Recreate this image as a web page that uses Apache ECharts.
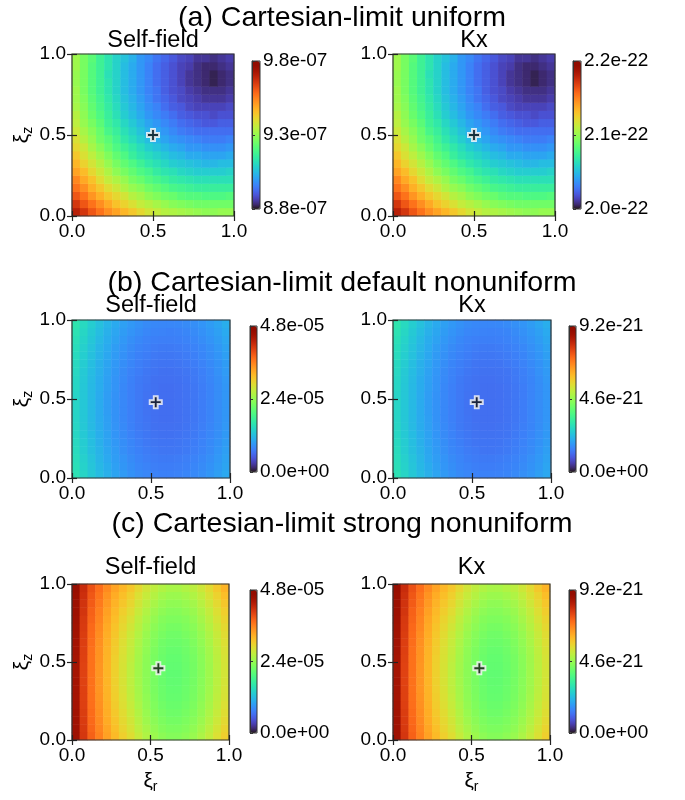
<!DOCTYPE html>
<html>
<head>
<meta charset="utf-8">
<script src="https://cdn.jsdelivr.net/npm/echarts@6/dist/echarts.min.js"></script>
<style>
  html, body { margin: 0; background: #fff; }
  #chart { width: 685px; height: 800px; }
</style>
</head>
<body>
<div id="chart"></div>
<script>
// cell centres of the sampled field (xi_r and xi_z), 20 x 20
const cells = ['0.025', '0.075', '0.125', '0.175', '0.225', '0.275', '0.325', '0.375', '0.425', '0.475',
  '0.525', '0.575', '0.625', '0.675', '0.725', '0.775', '0.825', '0.875', '0.925', '0.975'];

const rowTitles = ['(a) Cartesian-limit uniform', '(b) Cartesian-limit default nonuniform', '(c) Cartesian-limit strong nonuniform'];
const panelTitles = ['Self-field', 'Kx'];

// rows go from xi_z = 0.025 (bottom) up to 0.975, columns from xi_r = 0.025 to 0.975
// (a) self-field, units of 1e-9
const selfFieldA = [
  [970, 966, 961, 957, 953, 950, 947, 944, 941, 938, 936, 934, 933, 932, 931, 930, 929, 929, 930, 930],
  [966, 961, 957, 953, 949, 945, 942, 939, 936, 934, 932, 930, 928, 927, 926, 925, 925, 925, 925, 925],
  [961, 957, 952, 948, 944, 941, 938, 934, 932, 929, 927, 925, 924, 922, 921, 921, 920, 920, 920, 921],
  [957, 953, 948, 944, 940, 937, 933, 930, 928, 925, 923, 921, 919, 918, 917, 916, 916, 916, 916, 916],
  [954, 949, 945, 940, 936, 933, 930, 926, 924, 921, 919, 917, 915, 914, 913, 912, 912, 912, 912, 912],
  [950, 946, 941, 937, 933, 929, 926, 923, 920, 918, 915, 913, 912, 910, 909, 908, 908, 908, 908, 909],
  [947, 942, 938, 934, 930, 926, 923, 920, 917, 914, 912, 910, 908, 907, 906, 905, 904, 904, 905, 905],
  [944, 939, 935, 931, 927, 923, 920, 916, 913, 911, 909, 907, 905, 904, 902, 902, 901, 901, 901, 902],
  [941, 937, 932, 928, 924, 920, 917, 914, 911, 908, 906, 904, 902, 901, 899, 899, 898, 898, 898, 899],
  [939, 934, 930, 925, 922, 918, 914, 911, 908, 905, 903, 901, 899, 898, 897, 896, 895, 895, 895, 896],
  [937, 932, 928, 924, 919, 916, 912, 909, 906, 903, 901, 899, 897, 895, 894, 893, 893, 893, 893, 893],
  [935, 930, 926, 922, 917, 914, 910, 907, 904, 901, 899, 897, 895, 893, 892, 891, 890, 890, 891, 891],
  [934, 929, 924, 920, 916, 912, 908, 905, 902, 899, 897, 895, 893, 891, 890, 889, 889, 888, 889, 889],
  [932, 928, 923, 919, 915, 911, 907, 904, 901, 898, 896, 893, 891, 890, 888, 887, 887, 887, 887, 888],
  [931, 927, 922, 918, 914, 910, 906, 903, 900, 897, 894, 892, 890, 888, 887, 886, 885, 885, 885, 886],
  [931, 926, 921, 917, 913, 909, 905, 902, 899, 896, 894, 891, 889, 888, 886, 885, 884, 884, 884, 885],
  [930, 926, 921, 917, 913, 909, 905, 902, 899, 896, 893, 891, 889, 887, 885, 884, 883, 882, 883, 884],
  [930, 926, 921, 917, 912, 909, 905, 902, 899, 896, 893, 891, 889, 887, 885, 884, 883, 882, 883, 884],
  [931, 926, 921, 917, 913, 909, 905, 902, 899, 896, 893, 891, 889, 887, 886, 884, 883, 883, 884, 885],
  [931, 926, 922, 917, 913, 909, 906, 903, 899, 897, 894, 892, 890, 888, 887, 885, 885, 884, 885, 886]
];
// (a) Kx, units of 1e-25
const kxA = [
  [2180, 2172, 2162, 2154, 2146, 2140, 2134, 2128, 2122, 2116, 2112, 2108, 2106, 2104, 2102, 2100, 2098, 2098, 2100, 2100],
  [2172, 2162, 2154, 2146, 2138, 2130, 2124, 2118, 2112, 2108, 2104, 2100, 2096, 2094, 2092, 2090, 2090, 2090, 2090, 2090],
  [2162, 2154, 2144, 2136, 2128, 2122, 2116, 2108, 2104, 2098, 2094, 2090, 2088, 2084, 2082, 2082, 2080, 2080, 2080, 2082],
  [2154, 2146, 2136, 2128, 2120, 2114, 2106, 2100, 2096, 2090, 2086, 2082, 2078, 2076, 2074, 2072, 2072, 2072, 2072, 2072],
  [2148, 2138, 2130, 2120, 2112, 2106, 2100, 2092, 2088, 2082, 2078, 2074, 2070, 2068, 2066, 2064, 2064, 2064, 2064, 2064],
  [2140, 2132, 2122, 2114, 2106, 2098, 2092, 2086, 2080, 2076, 2070, 2066, 2064, 2060, 2058, 2056, 2056, 2056, 2056, 2058],
  [2134, 2124, 2116, 2108, 2100, 2092, 2086, 2080, 2074, 2068, 2064, 2060, 2056, 2054, 2052, 2050, 2048, 2048, 2050, 2050],
  [2128, 2118, 2110, 2102, 2094, 2086, 2080, 2072, 2066, 2062, 2058, 2054, 2050, 2048, 2044, 2044, 2042, 2042, 2042, 2044],
  [2122, 2114, 2104, 2096, 2088, 2080, 2074, 2068, 2062, 2056, 2052, 2048, 2044, 2042, 2038, 2038, 2036, 2036, 2036, 2038],
  [2118, 2108, 2100, 2090, 2084, 2076, 2068, 2062, 2056, 2050, 2046, 2042, 2038, 2036, 2034, 2032, 2030, 2030, 2030, 2032],
  [2114, 2104, 2096, 2088, 2078, 2072, 2064, 2058, 2052, 2046, 2042, 2038, 2034, 2030, 2028, 2026, 2026, 2026, 2026, 2026],
  [2110, 2100, 2092, 2084, 2074, 2068, 2060, 2054, 2048, 2042, 2038, 2034, 2030, 2026, 2024, 2022, 2020, 2020, 2022, 2022],
  [2108, 2098, 2088, 2080, 2072, 2064, 2056, 2050, 2044, 2038, 2034, 2030, 2026, 2022, 2020, 2018, 2018, 2016, 2018, 2018],
  [2104, 2096, 2086, 2078, 2070, 2062, 2054, 2048, 2042, 2036, 2032, 2026, 2022, 2020, 2016, 2014, 2014, 2014, 2014, 2016],
  [2102, 2094, 2084, 2076, 2068, 2060, 2052, 2046, 2040, 2034, 2028, 2024, 2020, 2016, 2014, 2012, 2010, 2010, 2010, 2012],
  [2102, 2092, 2082, 2074, 2066, 2058, 2050, 2044, 2038, 2032, 2028, 2022, 2018, 2016, 2012, 2010, 2008, 2008, 2008, 2010],
  [2100, 2092, 2082, 2074, 2066, 2058, 2050, 2044, 2038, 2032, 2026, 2022, 2018, 2014, 2010, 2008, 2006, 2004, 2006, 2008],
  [2100, 2092, 2082, 2074, 2064, 2058, 2050, 2044, 2038, 2032, 2026, 2022, 2018, 2014, 2010, 2008, 2006, 2004, 2006, 2008],
  [2102, 2092, 2082, 2074, 2066, 2058, 2050, 2044, 2038, 2032, 2026, 2022, 2018, 2014, 2012, 2008, 2006, 2006, 2008, 2010],
  [2102, 2092, 2084, 2074, 2066, 2058, 2052, 2046, 2038, 2034, 2028, 2024, 2020, 2016, 2014, 2010, 2010, 2008, 2010, 2012]
];
// (b) self-field, units of 1e-7
const selfFieldB = [
  [155, 142, 130, 119, 110, 101, 94, 88, 83, 80, 77, 76, 76, 77, 79, 82, 86, 91, 97, 104],
  [152, 139, 127, 116, 107, 98, 91, 85, 80, 77, 74, 73, 73, 74, 76, 79, 83, 88, 94, 101],
  [150, 137, 125, 114, 104, 96, 89, 83, 78, 74, 72, 71, 71, 72, 74, 77, 81, 86, 92, 99],
  [148, 134, 122, 112, 102, 94, 86, 80, 76, 72, 70, 68, 68, 69, 71, 74, 78, 83, 90, 97],
  [146, 133, 121, 110, 100, 92, 85, 79, 74, 70, 68, 67, 67, 68, 70, 73, 77, 82, 88, 95],
  [144, 131, 119, 108, 99, 90, 83, 77, 72, 69, 66, 65, 65, 66, 68, 71, 75, 80, 86, 93],
  [143, 130, 118, 107, 98, 89, 82, 76, 71, 68, 65, 64, 64, 65, 67, 70, 74, 79, 85, 92],
  [142, 129, 117, 106, 97, 88, 81, 75, 70, 67, 64, 63, 63, 64, 66, 69, 73, 78, 84, 91],
  [142, 129, 117, 106, 96, 88, 81, 75, 70, 66, 64, 63, 63, 64, 66, 69, 73, 78, 84, 91],
  [142, 129, 117, 106, 96, 88, 81, 75, 70, 66, 64, 63, 63, 64, 66, 69, 73, 78, 84, 91],
  [142, 129, 117, 106, 96, 88, 81, 75, 70, 66, 64, 63, 63, 64, 66, 69, 73, 78, 84, 91],
  [143, 129, 117, 107, 97, 89, 81, 75, 70, 67, 65, 63, 63, 64, 66, 69, 73, 78, 84, 91],
  [143, 130, 118, 107, 98, 89, 82, 76, 71, 68, 65, 64, 64, 65, 67, 70, 74, 79, 85, 92],
  [145, 131, 119, 109, 99, 91, 83, 77, 73, 69, 67, 65, 65, 66, 68, 71, 75, 80, 87, 94],
  [146, 133, 121, 110, 101, 92, 85, 79, 74, 71, 68, 67, 67, 68, 70, 73, 77, 82, 88, 95],
  [148, 135, 123, 112, 103, 94, 87, 81, 76, 73, 70, 69, 69, 70, 72, 75, 79, 84, 90, 97],
  [150, 137, 125, 114, 105, 96, 89, 83, 78, 75, 72, 71, 71, 72, 74, 77, 81, 86, 92, 99],
  [153, 140, 128, 117, 107, 99, 92, 86, 81, 77, 75, 74, 74, 75, 77, 80, 84, 89, 95, 102],
  [156, 143, 131, 120, 110, 102, 95, 89, 84, 80, 78, 77, 76, 77, 79, 83, 87, 92, 98, 105],
  [159, 146, 134, 123, 113, 105, 98, 92, 87, 83, 81, 80, 80, 81, 83, 86, 90, 95, 101, 108]
];
// (b) Kx, units of 1e-23
const kxB = [
  [297, 272, 249, 228, 211, 194, 180, 169, 159, 153, 148, 146, 146, 148, 151, 157, 165, 174, 186, 199],
  [291, 266, 243, 222, 205, 188, 174, 163, 153, 148, 142, 140, 140, 142, 146, 151, 159, 169, 180, 194],
  [288, 263, 240, 219, 199, 184, 171, 159, 150, 142, 138, 136, 136, 138, 142, 148, 155, 165, 176, 190],
  [284, 257, 234, 215, 196, 180, 165, 153, 146, 138, 134, 130, 130, 132, 136, 142, 150, 159, 173, 186],
  [280, 255, 232, 211, 192, 176, 163, 151, 142, 134, 130, 128, 128, 130, 134, 140, 148, 157, 169, 182],
  [276, 251, 228, 207, 190, 173, 159, 148, 138, 132, 127, 125, 125, 127, 130, 136, 144, 153, 165, 178],
  [274, 249, 226, 205, 188, 171, 157, 146, 136, 130, 125, 123, 123, 125, 128, 134, 142, 151, 163, 176],
  [272, 247, 224, 203, 186, 169, 155, 144, 134, 128, 123, 121, 121, 123, 127, 132, 140, 150, 161, 174],
  [272, 247, 224, 203, 184, 169, 155, 144, 134, 127, 123, 121, 121, 123, 127, 132, 140, 150, 161, 174],
  [272, 247, 224, 203, 184, 169, 155, 144, 134, 127, 123, 121, 121, 123, 127, 132, 140, 150, 161, 174],
  [272, 247, 224, 203, 184, 169, 155, 144, 134, 127, 123, 121, 121, 123, 127, 132, 140, 150, 161, 174],
  [274, 247, 224, 205, 186, 171, 155, 144, 134, 128, 125, 121, 121, 123, 127, 132, 140, 150, 161, 174],
  [274, 249, 226, 205, 188, 171, 157, 146, 136, 130, 125, 123, 123, 125, 128, 134, 142, 151, 163, 176],
  [278, 251, 228, 209, 190, 174, 159, 148, 140, 132, 128, 125, 125, 127, 130, 136, 144, 153, 167, 180],
  [280, 255, 232, 211, 194, 176, 163, 151, 142, 136, 130, 128, 128, 130, 134, 140, 148, 157, 169, 182],
  [284, 259, 236, 215, 197, 180, 167, 155, 146, 140, 134, 132, 132, 134, 138, 144, 151, 161, 173, 186],
  [288, 263, 240, 219, 201, 184, 171, 159, 150, 144, 138, 136, 136, 138, 142, 148, 155, 165, 176, 190],
  [293, 268, 245, 224, 205, 190, 176, 165, 155, 148, 144, 142, 142, 144, 148, 153, 161, 171, 182, 196],
  [299, 274, 251, 230, 211, 196, 182, 171, 161, 153, 150, 148, 146, 148, 151, 159, 167, 176, 188, 201],
  [305, 280, 257, 236, 217, 201, 188, 176, 167, 159, 155, 153, 153, 155, 159, 165, 173, 182, 194, 207]
];
// (c) self-field, units of 1e-7
const selfFieldC = [
  [453, 412, 381, 359, 337, 318, 301, 287, 270, 255, 243, 234, 229, 229, 234, 241, 253, 267, 284, 301],
  [452, 410, 378, 356, 334, 314, 296, 281, 264, 250, 238, 228, 224, 224, 228, 236, 248, 262, 279, 296],
  [450, 408, 376, 353, 330, 310, 292, 277, 260, 245, 233, 224, 219, 219, 224, 231, 243, 257, 274, 291],
  [449, 407, 374, 351, 328, 307, 289, 273, 256, 241, 229, 220, 215, 215, 220, 227, 239, 253, 270, 287],
  [448, 405, 372, 349, 326, 304, 286, 270, 253, 238, 226, 217, 212, 212, 217, 224, 236, 250, 267, 284],
  [447, 404, 371, 347, 324, 302, 284, 267, 250, 236, 224, 214, 209, 209, 214, 221, 233, 248, 265, 281],
  [447, 404, 370, 346, 323, 301, 282, 265, 249, 234, 222, 213, 208, 208, 213, 220, 232, 246, 263, 280],
  [447, 403, 370, 346, 322, 300, 281, 264, 248, 233, 221, 212, 207, 207, 212, 219, 231, 245, 262, 279],
  [446, 403, 370, 346, 322, 300, 281, 264, 247, 233, 221, 211, 206, 206, 211, 218, 230, 245, 262, 278],
  [447, 403, 370, 346, 322, 300, 281, 264, 248, 233, 221, 212, 207, 207, 212, 219, 231, 245, 262, 279],
  [447, 404, 370, 347, 323, 301, 282, 266, 249, 234, 222, 213, 208, 208, 213, 220, 232, 246, 263, 280],
  [448, 405, 371, 348, 324, 303, 284, 268, 251, 236, 224, 215, 210, 210, 215, 222, 234, 248, 265, 282],
  [448, 406, 373, 349, 326, 305, 286, 270, 253, 239, 227, 217, 213, 213, 217, 225, 237, 251, 268, 285],
  [449, 407, 374, 351, 328, 308, 289, 273, 257, 242, 230, 221, 216, 216, 221, 228, 240, 254, 271, 288],
  [450, 409, 376, 354, 331, 311, 293, 277, 261, 246, 234, 225, 220, 220, 225, 232, 244, 258, 275, 292],
  [452, 410, 379, 357, 334, 315, 297, 282, 265, 251, 239, 229, 225, 225, 229, 237, 249, 263, 280, 297],
  [454, 413, 381, 360, 338, 319, 302, 288, 271, 256, 244, 235, 230, 230, 235, 242, 254, 268, 285, 302],
  [455, 415, 385, 364, 343, 324, 308, 294, 277, 263, 251, 241, 236, 236, 241, 248, 260, 275, 291, 308],
  [457, 418, 388, 368, 347, 329, 314, 301, 284, 270, 258, 248, 243, 243, 248, 255, 267, 282, 298, 315],
  [460, 421, 392, 372, 353, 336, 321, 308, 292, 277, 265, 256, 251, 251, 256, 263, 275, 289, 306, 323]
];
// (c) Kx, units of 1e-23
const kxC = [
  [868, 790, 730, 688, 646, 610, 577, 550, 518, 489, 466, 449, 439, 439, 449, 462, 485, 512, 544, 577],
  [866, 786, 725, 682, 640, 602, 567, 539, 506, 479, 456, 437, 429, 429, 437, 452, 475, 502, 535, 567],
  [863, 782, 721, 677, 633, 594, 560, 531, 498, 470, 447, 429, 420, 420, 429, 443, 466, 493, 525, 558],
  [861, 780, 717, 673, 629, 588, 554, 523, 491, 462, 439, 422, 412, 412, 422, 435, 458, 485, 518, 550],
  [859, 776, 713, 669, 625, 583, 548, 518, 485, 456, 433, 416, 406, 406, 416, 429, 452, 479, 512, 544],
  [857, 774, 711, 665, 621, 579, 544, 512, 479, 452, 429, 410, 401, 401, 410, 424, 447, 475, 508, 539],
  [857, 774, 709, 663, 619, 577, 541, 508, 477, 449, 426, 408, 399, 399, 408, 422, 445, 472, 504, 537],
  [857, 772, 709, 663, 617, 575, 539, 506, 475, 447, 424, 406, 397, 397, 406, 420, 443, 470, 502, 535],
  [855, 772, 709, 663, 617, 575, 539, 506, 473, 447, 424, 404, 395, 395, 404, 418, 441, 470, 502, 533],
  [857, 772, 709, 663, 617, 575, 539, 506, 475, 447, 424, 406, 397, 397, 406, 420, 443, 470, 502, 535],
  [857, 774, 709, 665, 619, 577, 541, 510, 477, 449, 426, 408, 399, 399, 408, 422, 445, 472, 504, 537],
  [859, 776, 711, 667, 621, 581, 544, 514, 481, 452, 429, 412, 403, 403, 412, 426, 449, 475, 508, 541],
  [859, 778, 715, 669, 625, 585, 548, 518, 485, 458, 435, 416, 408, 408, 416, 431, 454, 481, 514, 546],
  [861, 780, 717, 673, 629, 590, 554, 523, 493, 464, 441, 424, 414, 414, 424, 437, 460, 487, 519, 552],
  [863, 784, 721, 679, 634, 596, 562, 531, 500, 472, 449, 431, 422, 422, 431, 445, 468, 495, 527, 560],
  [866, 786, 726, 684, 640, 604, 569, 541, 508, 481, 458, 439, 431, 431, 439, 454, 477, 504, 537, 569],
  [870, 792, 730, 690, 648, 611, 579, 552, 519, 491, 468, 450, 441, 441, 450, 464, 487, 514, 546, 579],
  [872, 795, 738, 698, 657, 621, 590, 564, 531, 504, 481, 462, 452, 452, 462, 475, 498, 527, 558, 590],
  [876, 801, 744, 705, 665, 631, 602, 577, 544, 518, 495, 475, 466, 466, 475, 489, 512, 541, 571, 604],
  [882, 807, 751, 713, 677, 644, 615, 590, 560, 531, 508, 491, 481, 481, 491, 504, 527, 554, 587, 619]
];

// colour bar limits and labels
const rangeSelfA = [8.8e-7, 9.8e-7], ticksSelfA = ['8.8e-07', '9.3e-07', '9.8e-07'];
const rangeKxA = [2.0e-22, 2.2e-22], ticksKxA = ['2.0e-22', '2.1e-22', '2.2e-22'];
const rangeSelfBC = [0, 4.8e-5], ticksSelfBC = ['0.0e+00', '2.4e-05', '4.8e-05'];
const rangeKxBC = [0, 9.2e-21], ticksKxBC = ['0.0e+00', '4.6e-21', '9.2e-21'];

// marker (+) positions per row
const markerR = [0.5, 0.53, 0.55];
const markerZ = [0.5, 0.48, 0.46];

const panels = [
  [{ v: selfFieldA, unit: 1e-9, range: rangeSelfA, ticks: ticksSelfA }, { v: kxA, unit: 1e-25, range: rangeKxA, ticks: ticksKxA }],
  [{ v: selfFieldB, unit: 1e-7, range: rangeSelfBC, ticks: ticksSelfBC }, { v: kxB, unit: 1e-23, range: rangeKxBC, ticks: ticksKxBC }],
  [{ v: selfFieldC, unit: 1e-7, range: rangeSelfBC, ticks: ticksSelfBC }, { v: kxC, unit: 1e-23, range: rangeKxBC, ticks: ticksKxBC }]
];

// layout (px)
const layout = [
  { titleTop: 4, subTop: 29, top: 54, w: 162, h: 162, cbTop: 61, cbH: 148, cbW: 8, cbLeft: [252, 573] },
  { titleTop: 269, subTop: 294, top: 320, w: 158, h: 158, cbTop: 326, cbH: 146, cbW: 7, cbLeft: [250, 569] },
  { titleTop: 510, subTop: 556, top: 584, w: 157, h: 156, cbTop: 590, cbH: 143, cbW: 7, cbLeft: [250, 569] }
];
const colLeft = [72, 393];
const font = 'Liberation Sans, Arial, sans-serif';
const tickFont = 19;

function turbo(t) {
  const r = 0.13572138 + t * (4.61539260 + t * (-42.66032258 + t * (132.13108234 + t * (-152.94239396 + t * 59.28637943))));
  const g = 0.09140261 + t * (2.19418839 + t * (4.84296658 + t * (-14.18503333 + t * (4.27729857 + t * 2.82956604))));
  const b = 0.10667330 + t * (12.64194608 + t * (-60.58204836 + t * (110.36276771 + t * (-89.90310912 + t * 27.34824973))));
  const c = x => Math.round(Math.max(0, Math.min(1, x)) * 255);
  return 'rgb(' + c(r) + ',' + c(g) + ',' + c(b) + ')';
}
const turboColors = [];
for (let k = 0; k <= 32; k++) turboColors.push(turbo(k / 32));

const plus = 'path://M3.4,0H6.6V3.4H10V6.6H6.6V10H3.4V6.6H0V3.4H3.4Z';

function valueAxis(gridIndex, position, labels, name, nameGap) {
  return {
    gridIndex, type: 'value', position, min: 0, max: 1, interval: 0.5, z: 11,
    axisLine: { show: false }, splitLine: { show: false },
    axisTick: { show: true, inside: true, length: 5, lineStyle: { color: '#222', width: 1.2 } },
    axisLabel: { show: labels, formatter: v => v.toFixed(1), fontSize: tickFont, color: '#000', fontFamily: font, margin: 6 },
    name: name || '', nameLocation: 'middle', nameGap: nameGap || 0,
    nameTextStyle: {
      color: '#000', fontFamily: font,
      rich: {
        g: { fontSize: 21, lineHeight: 26, fontFamily: font, color: '#000' },
        s: { fontSize: 14, lineHeight: 14, verticalAlign: 'bottom', fontFamily: font, color: '#000' }
      }
    }
  };
}

const grid = [], xAxis = [], yAxis = [], series = [], visualMap = [], title = [];

layout.forEach((L, r) => {
  title.push({
    text: rowTitles[r], left: 342, top: L.titleTop, textAlign: 'center', padding: 0,
    textStyle: { fontSize: 28.5, fontWeight: 'normal', color: '#000', fontFamily: font }
  });
  [0, 1].forEach(c => {
    const p = panels[r][c];
    const left = colLeft[c];
    title.push({
      text: panelTitles[c], left: left + L.w / 2, top: L.subTop, textAlign: 'center', padding: 0,
      textStyle: { fontSize: 23.5, fontWeight: 'normal', color: '#000', fontFamily: font }
    });

    // heat map on hidden category axes
    grid.push({ left, top: L.top, width: L.w, height: L.h });
    const gH = grid.length - 1;
    xAxis.push({ gridIndex: gH, type: 'category', data: cells, show: false });
    yAxis.push({ gridIndex: gH, type: 'category', data: cells, show: false });
    const data = [];
    p.v.forEach((row, j) => row.forEach((val, i) => data.push([i, j, val * p.unit])));
    series.push({
      type: 'heatmap', xAxisIndex: xAxis.length - 1, yAxisIndex: yAxis.length - 1,
      data, silent: true, emphasis: { disabled: true }, progressive: 0
    });
    const sH = series.length - 1;

    // framed value axes for ticks, labels and the marker
    grid.push({ left, top: L.top, width: L.w, height: L.h, show: true, borderColor: '#333', borderWidth: 1.2, z: 10 });
    const gV = grid.length - 1;
    const vx = xAxis.length;
    xAxis.push(valueAxis(gV, 'bottom', true, r === 2 ? '{g|ξ}{s|r}' : '', 28), valueAxis(gV, 'top', false));
    const vy = yAxis.length;
    yAxis.push(valueAxis(gV, 'left', true, c === 0 ? '{g|ξ}{s|z}' : '', 37), valueAxis(gV, 'right', false));
    series.push({
      type: 'scatter', xAxisIndex: vx, yAxisIndex: vy, data: [[markerR[r], markerZ[r]]],
      symbol: plus, symbolSize: 12, silent: true, z: 20,
      itemStyle: { color: '#111', borderColor: '#fff', borderWidth: 2 }
    });

    // colour bar
    const cbx = L.cbLeft[c];
    visualMap.push({
      type: 'continuous', seriesIndex: sH, min: p.range[0], max: p.range[1],
      left: cbx, top: L.cbTop, itemWidth: L.cbW, itemHeight: L.cbH, padding: 0,
      calculable: false, showLabel: false, hoverLink: false, text: null,
      inRange: { color: turboColors }
    });
    grid.push({ left: cbx, top: L.cbTop, width: L.cbW, height: L.cbH, show: true, borderColor: '#333', borderWidth: 1, z: 10 });
    const gC = grid.length - 1;
    xAxis.push({ gridIndex: gC, type: 'value', show: false, min: 0, max: 1 });
    yAxis.push({
      gridIndex: gC, type: 'category', position: 'right', data: p.ticks, boundaryGap: false, z: 11,
      axisLine: { show: true, lineStyle: { color: '#333' } },
      axisTick: { show: true, length: 3, lineStyle: { color: '#333' } },
      axisLabel: { interval: 0, fontSize: tickFont, color: '#000', fontFamily: font, margin: 3 }
    });
  });
});

const chart = echarts.init(document.getElementById('chart'));
chart.setOption({ animation: false, backgroundColor: '#fff', title, grid, xAxis, yAxis, visualMap, series });
</script>
</body>
</html>
